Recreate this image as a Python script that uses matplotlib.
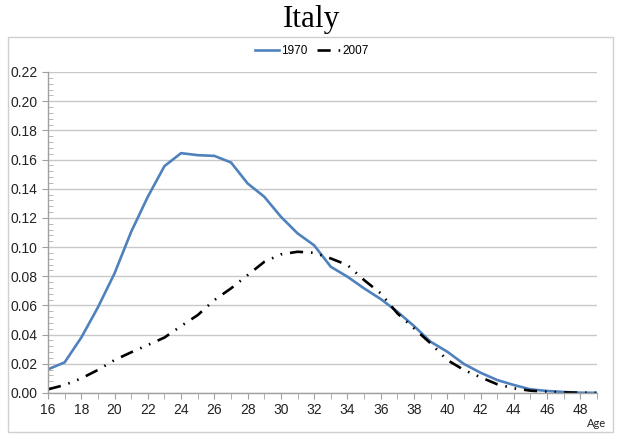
import matplotlib
matplotlib.use("Agg")
import matplotlib.pyplot as plt
from matplotlib.patches import Rectangle
from matplotlib.ticker import MultipleLocator, FixedLocator, FormatStrFormatter

ages = list(range(16, 50))
y1970 = [0.0162, 0.021, 0.038, 0.0587, 0.082, 0.1105, 0.1345, 0.1555, 0.1644, 0.163,
         0.1625, 0.158, 0.1436, 0.1345, 0.1208, 0.1094, 0.1012, 0.0865, 0.0797, 0.0717,
         0.0644, 0.0557, 0.0459, 0.0351, 0.0283, 0.0199, 0.0139, 0.0089, 0.0055, 0.0025,
         0.0014, 0.0007, 0.0002, 0.0001]
y2007 = [0.0025, 0.0055, 0.010, 0.0158, 0.0226, 0.0279, 0.0329, 0.038, 0.0459, 0.0534,
         0.0637, 0.0717, 0.0808, 0.0899, 0.095, 0.0968, 0.0961, 0.0922, 0.0877, 0.0774,
         0.0683, 0.0546, 0.0443, 0.034, 0.0226, 0.0158, 0.0108, 0.006, 0.0032, 0.0016,
         0.0009, 0.0004, 0.0002, 0.0001]
series_labels = ["1970", "2007"]
title = "Italy"
xlabel = "Age"

W, H = 621, 444
fig = plt.figure(figsize=(W / 100, H / 100), dpi=100)
fig.patch.set_facecolor("white")

# outer chart frame
fig.patches.append(Rectangle((8 / W, 1 - 432 / H), (613 - 8) / W, (432 - 37) / H,
                             transform=fig.transFigure, fill=False,
                             edgecolor="#d0d0d0", linewidth=1.0))

ax = fig.add_axes([48 / W, 1 - 393 / H, (597 - 48) / W, (393 - 72) / H])
ax.plot(ages, y1970, color="#4F81BD", linewidth=1.9, label=series_labels[0])
ax.plot(ages, y2007, color="black", linewidth=1.9,
        linestyle=(0, (5, 3, 0.6, 3, 0.6, 3)), label=series_labels[1])

ax.set_xlim(16, 49)
ax.set_ylim(0, 0.22)
ax.xaxis.set_major_locator(FixedLocator(list(range(16, 50, 2))))
ax.xaxis.set_minor_locator(MultipleLocator(1))
ax.yaxis.set_major_locator(MultipleLocator(0.02))
ax.yaxis.set_minor_locator(MultipleLocator(0.004))
ax.yaxis.set_major_formatter(FormatStrFormatter("%.2f"))

for s in ["top", "right"]:
    ax.spines[s].set_visible(False)
for s in ["left", "bottom"]:
    ax.spines[s].set_color("#a0a0a0")
    ax.spines[s].set_linewidth(1.0)

ax.grid(axis="y", which="major", color="#c8c8c8", linewidth=1.0)
ax.set_axisbelow(True)
ax.tick_params(axis="both", which="major", direction="out", length=4, color="#a0a0a0",
               labelsize=10, labelcolor="#222222")
ax.tick_params(axis="x", which="minor", direction="out", length=4, color="#a0a0a0")
ax.tick_params(axis="y", which="minor", direction="in", length=3.5, color="#b0b0b0")
ax.tick_params(axis="x", which="major", pad=3)
for lbl in ax.get_xticklabels() + ax.get_yticklabels():
    lbl.set_fontfamily("Liberation Sans")

fig.text(311 / W, 1 - 19 / H, title, ha="center", va="center",
         fontsize=22.5, family="Liberation Serif")
fig.text(597 / W, 1 - 423 / H, xlabel, ha="center", va="center",
         fontsize=8, family="Lato", color="#222222")

leg = ax.legend(loc="center", bbox_to_anchor=(312 / W, 1 - 51 / H),
                bbox_transform=fig.transFigure, ncol=2, frameon=False,
                prop={"family": "Liberation Sans", "size": 8.5},
                handlelength=2.0, handletextpad=0.2, columnspacing=0.8)

fig.savefig("out.png", dpi=100)
